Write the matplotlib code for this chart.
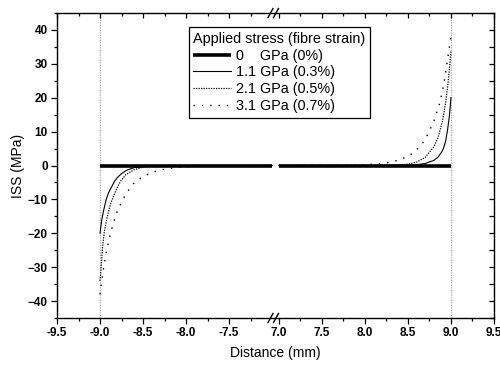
import numpy as np
import matplotlib
matplotlib.use('Agg')
import matplotlib.pyplot as plt
from matplotlib.lines import Line2D
from matplotlib.ticker import FixedLocator, FixedFormatter, MultipleLocator

plt.rcParams['font.family'] = ['Liberation Sans', 'DejaVu Sans']

# ---------------- data ----------------
# 0 GPa : flat zero line on both sides
x_0gpa_left = [-9.0, -7.0]
y_0gpa_left = [0.0, 0.0]
x_0gpa_right = [7.0, 9.0]
y_0gpa_right = [0.0, 0.0]

# 1.1 GPa (0.3%)
x_11_left = [-9.0, -8.98, -8.96, -8.93, -8.90, -8.865, -8.83, -8.80, -8.75, -8.69, -8.60, -8.50, -8.40, -8.20, -7.0]
y_11_left = [-20.0, -16.1, -13.5, -10.2, -8.0, -6.3, -4.6, -3.6, -2.4, -1.4, -0.6, -0.3, -0.1, 0.0, 0.0]
x_11_right = [7.0, 8.0, 8.50, 8.60, 8.70, 8.80, 8.85, 8.90, 8.92, 8.94, 8.96, 8.98, 9.0]
y_11_right = [0.0, 0.0, 0.1, 0.25, 0.6, 1.5, 2.5, 4.3, 5.6, 7.5, 10.5, 14.3, 20.0]

# 2.1 GPa (0.5%)
x_21_left = [-9.0, -8.99, -8.97, -8.95, -8.915, -8.88, -8.845, -8.80, -8.76, -8.70, -8.60, -8.50, -8.40, -8.20, -7.0]
y_21_left = [-34.0, -31.0, -24.0, -19.5, -15.1, -11.5, -9.2, -6.5, -4.6, -2.7, -1.2, -0.5, -0.2, 0.0, 0.0]
x_21_right = [7.0, 8.20, 8.40, 8.50, 8.60, 8.70, 8.80, 8.85, 8.90, 8.92, 8.94, 8.96, 8.98, 9.0]
y_21_right = [0.0, 0.0, 0.15, 0.4, 1.0, 2.4, 5.5, 8.3, 13.0, 15.8, 19.0, 23.0, 28.0, 34.0]

# 3.1 GPa (0.7%)
x_31_left = [-9.0, -8.99, -8.965, -8.934, -8.89, -8.86, -8.826, -8.80, -8.744, -8.69, -8.612, -8.50, -8.32, -8.10, -7.80, -7.50, -7.0]
y_31_left = [-38.0, -35.9, -31.3, -26.5, -21.2, -18.4, -15.6, -13.5, -10.5, -8.0, -5.4, -3.2, -1.4, -0.5, -0.2, -0.1, 0.0]
x_31_right = [7.0, 7.80, 8.00, 8.20, 8.30, 8.41, 8.52, 8.62, 8.70, 8.80, 8.87, 8.90, 8.93, 8.97, 9.0]
y_31_right = [0.0, 0.1, 0.2, 0.6, 1.0, 1.7, 3.0, 5.1, 7.6, 13.0, 18.5, 22.0, 26.0, 33.0, 38.0]

labels = ['0    GPa (0%)', '1.1 GPa (0.3%)', '2.1 GPa (0.5%)', '3.1 GPa (0.7%)']
legend_title = 'Applied stress (fibre strain)'

xmajor = [-9.5, -9.0, -8.5, -8.0, -7.5, 7.0, 7.5, 8.0, 8.5, 9.0, 9.5]
xmajor_labels = ['-9.5', '-9.0', '-8.5', '-8.0', '-7.5', '7.0', '7.5', '8.0', '8.5', '9.0', '9.5']
xminor = [-9.25, -8.75, -8.25, -7.75, -7.25, 7.25, 7.75, 8.25, 8.75, 9.25]
x_ref_lines = [-9.0, 9.0]
xlim = (-9.5, 9.5)
ylim = (-45, 45)

# ---------------- broken-axis scale ----------------
G = 0.08


def fwd(x):
    x = np.asarray(x, dtype=float)
    return np.where(x <= -7, x + 7, np.where(x >= 7, x - 7 + G, (x + 7) / 14.0 * G))


def inv(t):
    t = np.asarray(t, dtype=float)
    return np.where(t <= 0, t - 7, np.where(t >= G, t + 7 - G, t / G * 14.0 - 7))


def join(xl, yl, xr, yr):
    return list(xl) + [np.nan] + list(xr), list(yl) + [np.nan] + list(yr)


W, H = 500, 365
fig = plt.figure(figsize=(W / 100, H / 100), dpi=100)
ax = fig.add_axes([57 / W, 1 - 318 / H, (494 - 57) / W, (318 - 13) / H])
ax.set_xscale('function', functions=(fwd, inv))
ax.set_xlim(*xlim)
ax.set_ylim(*ylim)

for xv in x_ref_lines:
    ax.axvline(xv, color='#a8a8a8', lw=0.9, ls=(0, (1, 1)), zorder=1)

xs, ys = join(x_0gpa_left, y_0gpa_left, x_0gpa_right, y_0gpa_right)
l0, = ax.plot(xs, ys, color='black', lw=2.6, solid_capstyle='butt', zorder=3)
xs, ys = join(x_11_left, y_11_left, x_11_right, y_11_right)
l1, = ax.plot(xs, ys, color='black', lw=0.8, zorder=2)
xs, ys = join(x_21_left, y_21_left, x_21_right, y_21_right)
l2, = ax.plot(xs, ys, color='black', lw=0.9, ls=(0, (1, 1)), zorder=2)
xs, ys = join(x_31_left, y_31_left, x_31_right, y_31_right)
l3, = ax.plot(xs, ys, color='black', lw=1.0, ls=(0, (1, 5)), zorder=2)

ax.xaxis.set_major_locator(FixedLocator(xmajor))
ax.xaxis.set_major_formatter(FixedFormatter(xmajor_labels))
ax.xaxis.set_minor_locator(FixedLocator(xminor))
ax.yaxis.set_major_locator(MultipleLocator(10))
ax.yaxis.set_minor_locator(MultipleLocator(5))
ax.tick_params(which='major', direction='out', length=4.5, width=0.9, labelsize=8.5, pad=2)
ax.tick_params(which='minor', direction='out', length=2.5, width=0.9)
ax.tick_params(top=False, right=False, which='both')
for lab in ax.get_xticklabels() + ax.get_yticklabels():
    lab.set_fontweight('bold')
for sp in ax.spines.values():
    sp.set_linewidth(1.0)

ax.set_xlabel('Distance (mm)', fontsize=10, labelpad=5)
ax.set_ylabel('ISS (MPa)', fontsize=10, labelpad=2)

# top / right mirrored axes with inward ticks
axt = ax.twiny()
axt.set_xscale('function', functions=(fwd, inv))
axt.set_xlim(*xlim)
axt.xaxis.set_major_locator(FixedLocator(xmajor))
axt.xaxis.set_minor_locator(FixedLocator(xminor))
axt.tick_params(which='major', direction='in', length=3.5, width=0.9, labeltop=False)
axt.tick_params(which='minor', direction='in', length=2.5, width=0.9)
axr = ax.twinx()
axr.set_ylim(*ylim)
axr.yaxis.set_major_locator(MultipleLocator(10))
axr.yaxis.set_minor_locator(MultipleLocator(5))
axr.tick_params(which='major', direction='in', length=3.5, width=0.9, labelright=False)
axr.tick_params(which='minor', direction='in', length=3.5, width=0.9)
for a in (axt, axr):
    a.patch.set_visible(False)
    for sp in a.spines.values():
        sp.set_visible(False)

leg = ax.legend([l0, l1, l2, l3], labels, title=legend_title, loc='upper left',
                bbox_to_anchor=(0.302, 0.953), fontsize=10.4, title_fontsize=10.4,
                frameon=True, fancybox=False, framealpha=1, edgecolor='black',
                handlelength=2.6, handletextpad=0.35, labelspacing=0.2,
                borderpad=0.3, borderaxespad=0, alignment='left')
leg.get_frame().set_linewidth(0.9)
leg.set_zorder(10)

# break marks "//" on the bottom and top spines
xb = ax.transData.transform((0.0, 0.0))[0]
for yfrac in (0.0, 1.0):
    yb = ax.transAxes.transform((0.0, yfrac))[1]
    for dx in (-5.0, 0.5):
        x0p, x1p = xb + dx - 2.5, xb + dx + 2.5
        y0p, y1p = yb - 4.5, yb + 4.5
        fig.add_artist(Line2D([x0p / W, x1p / W], [y0p / H, y1p / H],
                              transform=fig.transFigure, color='black', lw=1.0))

fig.savefig('out.png', dpi=100)
